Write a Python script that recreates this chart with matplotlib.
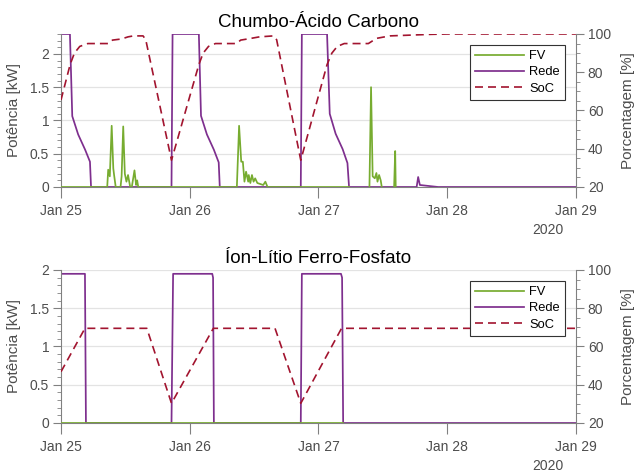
import numpy as np
import matplotlib
matplotlib.use("Agg")
import matplotlib.pyplot as plt
import matplotlib.dates as mdates
from matplotlib.ticker import MultipleLocator

plt.rcParams['font.family'] = ['Liberation Sans', 'DejaVu Sans']

# ---------------- data (hours since Jan 25 2020 00:00) ----------------
start = np.datetime64('2020-01-25T00:00')
nan = np.nan

# Chumbo-Acido Carbono
ca_rede_h = [0, 1.68, 2.1, 3.2, 4.5, 5.4, 5.6, 20.6, 20.8, 25.7, 26.1, 27.2, 28.5, 29.4, 29.6,
             44.7, 44.9, 49.6, 50.1, 51.2, 52.5, 53.4, 53.7, 66.3, 66.6, 66.9, 70.3, 96]
ca_rede_kw = [2.3, 2.3, 1.065, 0.79, 0.56, 0.38, 0, 0, 2.3, 2.3, 1.07, 0.79, 0.56, 0.37, 0,
              0, 2.3, 2.3, 1.1, 0.8, 0.57, 0.36, 0, 0, 0.15, 0.03, 0, 0]

ca_fv_h = [0, 8.63, 8.8, 9.1, 9.45, 9.75, 9.9, 10.2, 11.1, 11.3, 11.6, 11.9, 12.2, 12.5, 12.9,
           13.2, 13.7, 14.0, 14.2, 14.4, 32.8, 33.2, 33.6, 33.9, 34.2, 34.5, 34.9, 35.0, 35.3,
           35.6, 35.9, 36.2, 36.6, 37.7, 38.1, 38.5, 53.7, 53.8,
           57.5, 57.8, 58.1, 58.5, 58.8, 59.0, 59.3, 59.6, 59.8, 60.0,
           62.1, 62.3, 62.4]
ca_fv_kw = [0, 0, 0.26, 0.16, 0.92, 0.28, 0.18, 0, 0, 0.16, 0.91, 0.2, 0.08, 0.18, 0,
            0, 0.25, 0.03, 0.1, 0, 0, 0.92, 0.38, 0.38, 0.08, 0.23, 0.08, 0.18, 0.06,
            0.18, 0.08, 0.13, 0.06, 0.03, 0.08, 0, 0, nan,
            0, 1.5, 0.16, 0.13, 0.21, 0.08, 0.18, 0.1, 0, nan,
            0, 0.54, 0]

ca_soc_h = [0, 1.7, 2.5, 3.5, 5, 8.8, 9.6, 11.3, 12.5, 13.5, 15.3, 15.8, 20.6,
            25.7, 26.5, 27.5, 28.8, 32.7, 33.5, 35, 37, 39.6, 40.2, 44.7,
            49.6, 50.5, 51.5, 52.8, 57.3, 58.8, 61.3, 68.8, 72, 96]
ca_soc = [65.5, 84, 90, 93.5, 95, 95, 96.8, 97.4, 98.5, 99, 99, 97, 34,
          84, 90, 93.5, 95, 95, 96.8, 97.5, 98.5, 99, 97, 34,
          84, 90, 93.5, 95, 95, 97.7, 99, 99.8, 100, 100]

# Ion-Litio Ferro-Fosfato
lf_rede_h = [0, 4.47, 4.66, 20.6, 20.9, 28.2, 28.35, 28.5, 44.7, 44.9, 52.2, 52.4, 52.6, 96]
lf_rede_kw = [1.95, 1.95, 0, 0, 1.95, 1.95, 1.9, 0, 0, 1.95, 1.95, 1.9, 0, 0]

lf_fv_h = [0, 52.6]
lf_fv_kw = [0, 0]

lf_soc_h = [0, 4.47, 16, 20.6, 28.4, 39.9, 44.7, 52.3, 96]
lf_soc = [46.8, 69.5, 69.5, 30.3, 69.5, 69.5, 30.3, 69.5, 69.5]


def to_dt(hours):
    return start + (np.array(hours) * 60).astype(int).astype('timedelta64[m]')


C_FV = '#77AC30'
C_REDE = '#7E2F8E'
C_SOC = '#A2142F'
AX_COL = '#808080'
TXT_COL = '#4d4d4d'

fig = plt.figure(figsize=(6.36, 4.74), dpi=100)


def panel(rect, title, fv, rede, soc, ymax, yticks):
    ax = fig.add_axes(rect)
    ax.plot(to_dt(rede[0]), rede[1], color=C_REDE, lw=1.25, label='Rede', zorder=2)
    ax.plot(to_dt(fv[0]), fv[1], color=C_FV, lw=1.25, label='FV', zorder=3)
    ax.set_ylim(0, ymax)
    ax.set_xlim(start, np.datetime64('2020-01-29T00:00'))
    ax.set_yticks(yticks)
    ax.yaxis.set_minor_locator(MultipleLocator(0.1))
    ax.set_yticklabels([f'{t:g}' for t in yticks])
    ax.xaxis.set_major_locator(mdates.DayLocator())
    ax.xaxis.set_major_formatter(mdates.DateFormatter('%b %d'))
    ax.grid(axis='y', color='#e3e3e3', lw=0.9)
    ax.set_axisbelow(True)
    ax.set_ylabel('Potência [kW]', fontsize=11, color=TXT_COL)
    ax.yaxis.set_label_coords(-0.078, 0.5)
    ax.set_title(title, fontsize=13.5, pad=5)

    ax2 = ax.twinx()
    ax2.plot(to_dt(soc[0]), soc[1], color=C_SOC, lw=1.2, dashes=(4.8, 3.0), label='SoC')
    ax2.set_ylim(20, 100)
    ax2.set_yticks([20, 40, 60, 80, 100])
    ax2.yaxis.set_minor_locator(MultipleLocator(5))
    ax2.set_ylabel('Porcentagem [%]', fontsize=11, color=TXT_COL)
    ax2.yaxis.set_label_coords(1.087, 0.5)

    for a in (ax, ax2):
        a.spines['top'].set_visible(False)
        for s in ('left', 'right', 'bottom'):
            a.spines[s].set_color(AX_COL)
        a.tick_params(axis='y', which='major', length=5.5, width=0.8, color=AX_COL,
                      labelcolor=TXT_COL, labelsize=10, pad=3)
        a.tick_params(axis='y', which='minor', length=3, width=0.6, color=AX_COL)
        a.tick_params(axis='x', length=8, width=0.8, color=AX_COL, labelcolor=TXT_COL,
                      labelsize=10, pad=4)
    ax2.spines['left'].set_visible(False)
    ax2.spines['bottom'].set_visible(False)
    ax.spines['right'].set_visible(False)

    handles = ax.get_legend_handles_labels()[0]
    h_fv = [h for h in handles if h.get_label() == 'FV'][0]
    h_rede = [h for h in handles if h.get_label() == 'Rede'][0]
    h_soc = ax2.get_legend_handles_labels()[0][0]
    leg = ax2.legend([h_fv, h_rede, h_soc], ['FV', 'Rede', 'SoC'], loc='upper right',
                     fontsize=9.3, handlelength=3.8, labelspacing=0.33, borderaxespad=0.85,
                     fancybox=False, framealpha=1, edgecolor='#333333', borderpad=0.4,
                     handletextpad=0.4)
    leg.get_frame().set_linewidth(0.8)

    ax.text(0.975, -0.28, '2020', transform=ax.transAxes, ha='right', va='center',
            fontsize=10, color=TXT_COL)
    return ax


panel([0.0959, 0.6055, 0.8097, 0.3228], 'Chumbo-Ácido Carbono',
      (ca_fv_h, ca_fv_kw), (ca_rede_h, ca_rede_kw), (ca_soc_h, ca_soc), 2.3, [0, 0.5, 1, 1.5, 2])
panel([0.0959, 0.1076, 0.8097, 0.3228], 'Íon-Lítio Ferro-Fosfato',
      (lf_fv_h, lf_fv_kw), (lf_rede_h, lf_rede_kw), (lf_soc_h, lf_soc), 2.0, [0, 0.5, 1, 1.5, 2])

fig.savefig('out.png', dpi=100)
